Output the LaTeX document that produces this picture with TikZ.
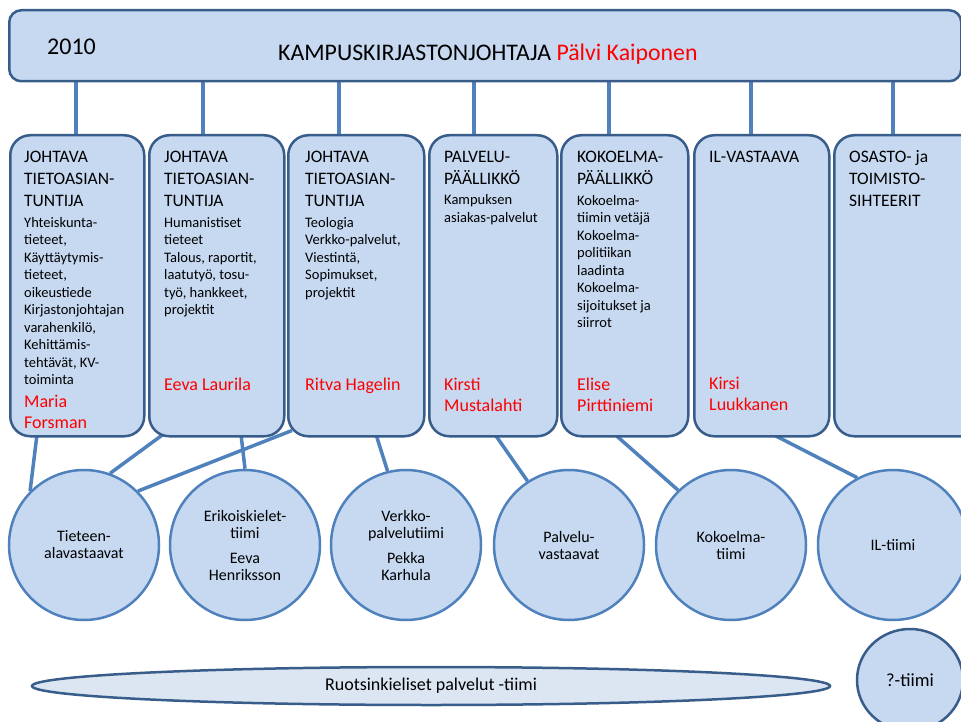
\documentclass[tikz,border=0pt]{standalone}
\usepackage{fontspec}
\setmainfont{Carlito}
\usetikzlibrary{shapes.geometric,backgrounds}
\definecolor{boxfill}{HTML}{C6D9F1}
\definecolor{boxline}{HTML}{385D8A}
\definecolor{connc}{HTML}{4F81BD}
\definecolor{lightfill}{HTML}{DCE6F2}
\definecolor{redname}{HTML}{FF0000}
\tikzset{
  colbox/.style={draw=boxline, fill=boxfill, line width=2.5pt, rounded corners=20pt, anchor=north west, minimum height=301pt, inner sep=0pt},
  topbox/.style={draw=boxline, fill=boxfill, line width=2.5pt, rounded corners=12pt, anchor=north west, minimum width=952pt, minimum height=71pt, inner sep=0pt},
  team/.style={circle, draw=connc, fill=boxfill, line width=2.5pt, minimum size=150pt, inner sep=0pt, align=center, font=\fontsize{16}{17}\selectfont},
  link/.style={draw=connc, line width=3.5pt},
  head/.style={anchor=base west, inner sep=0pt, align=left, font=\fontsize{17.5}{22}\selectfont},
  small/.style={anchor=base west, inner sep=0pt, align=left, font=\fontsize{14.5}{17.5}\selectfont},
  who/.style={anchor=base west, inner sep=0pt, align=left, text=redname, font=\fontsize{18}{21}\selectfont},
}
\begin{document}
\begin{tikzpicture}[x=1pt,y=-1pt]
\useasboundingbox (0,0) rectangle (961,722);
\clip (0,0) rectangle (961,722);
% top box
\node[topbox] (top) at (8,9) {};
\node[anchor=base west, inner sep=0pt, font=\fontsize{24}{28}\selectfont] (year) at (47,55) {2010};
\node[anchor=base west, inner sep=0pt, font=\fontsize{23.8}{28}\selectfont] (title) at (278,61) {KAMPUSKIRJASTONJOHTAJA \textcolor{redname}{Pälvi Kaiponen}};
% column boxes
\node[colbox, minimum width=134pt] (b1) at (9,134) {};
\node[colbox, minimum width=135pt] (b2) at (148,134) {};
\node[colbox, minimum width=136pt] (b3) at (287,134) {};
\node[colbox, minimum width=128pt] (b4) at (428,134) {};
\node[colbox, minimum width=127pt] (b5) at (560,134) {};
\node[colbox, minimum width=135pt] (b6) at (693,134) {};
\node[colbox, minimum width=150pt] (b7) at (833,134) {};
% (anchor = baseline of the last line)
% box 1
\node[head] (h1) at (24,207) {JOHTAVA\\TIETOASIAN-\\TUNTIJA};
\node[small] (s1) at (24,384.5) {Yhteiskunta-\\tieteet,\\Käyttäytymis-\\tieteet,\\oikeustiede\\Kirjastonjohtajan\\varahenkilö,\\Kehittämis-\\tehtävät, KV-\\toiminta};
\node[who] (n1) at (24,428) {Maria\\Forsman};
% box 2
\node[head] (h2) at (164,207) {JOHTAVA\\TIETOASIAN-\\TUNTIJA};
\node[small] (s2) at (164,314.5) {Humanistiset\\tieteet\\Talous, raportit,\\laatutyö, tosu-\\työ, hankkeet,\\projektit};
\node[who] (n2) at (164,390) {Eeva Laurila};
% box 3
\node[head] (h3) at (305,207) {JOHTAVA\\TIETOASIAN-\\TUNTIJA};
\node[small] (s3) at (305,297) {Teologia\\Verkko-palvelut,\\Viestintä,\\Sopimukset,\\projektit};
\node[who] (n3) at (305,390) {Ritva Hagelin};
% box 4
\node[head] (h4) at (444,185) {PALVELU-\\PÄÄLLIKKÖ};
\node[small] (s4) at (444,222.5) {Kampuksen\\asiakas-palvelut};
\node[who] (n4) at (444,411) {Kirsti\\Mustalahti};
% box 5
\node[head] (h5) at (577,185) {KOKOELMA-\\PÄÄLLIKKÖ};
\node[small] (s5) at (577,327.5) {Kokoelma-\\tiimin vetäjä\\Kokoelma-\\politiikan\\laadinta\\Kokoelma-\\sijoitukset ja\\siirrot};
\node[who] (n5) at (577,411) {Elise\\Pirttiniemi};
% box 6
\node[head] (h6) at (709,163) {IL-VASTAAVA};
\node[who] (n6) at (709,410) {Kirsi\\Luukkanen};
% box 7
\node[head] (h7) at (849,207) {OSASTO- ja\\TOIMISTO-\\SIHTEERIT};
% teams
\node[team] (t1) at (84,545) {Tieteen-\\alavastaavat};
\node[team] (t2) at (245,545) {Erikoiskielet-\\tiimi\\[8pt]Eeva\\Henriksson};
\node[team] (t3) at (406,545) {Verkko-\\palvelutiimi\\[8pt]Pekka\\Karhula};
\node[team] (t4) at (569,545) {Palvelu-\\vastaavat};
\node[team] (t5) at (731,545) {Kokoelma-\\tiimi};
\node[team] (t6) at (893,545) {IL-tiimi};
\node[ellipse, draw=boxline, fill=lightfill, line width=2.5pt, minimum width=798pt, minimum height=38pt, inner sep=0pt, font=\fontsize{18}{20}\selectfont] (swe) at (431,686) {Ruotsinkieliset palvelut -tiimi};
\node[ellipse, draw=boxline, fill=boxfill, line width=2.5pt, minimum width=106pt, minimum height=102pt, inner sep=0pt, font=\fontsize{18.5}{20}\selectfont] (qt) at (910,680) {?-tiimi};
% connectors
\begin{pgfonlayer}{background}
\draw[link] ([xshift=67pt]b1.north west) -- ([xshift=68pt]top.south west);
\draw[link] ([xshift=55pt]b2.north west) -- ([xshift=195pt]top.south west);
\draw[link] ([xshift=52pt]b3.north west) -- ([xshift=331pt]top.south west);
\draw[link] ([xshift=46pt]b4.north west) -- ([xshift=466pt]top.south west);
\draw[link] ([xshift=49pt]b5.north west) -- ([xshift=601pt]top.south west);
\draw[link] ([xshift=58pt]b6.north west) -- ([xshift=743pt]top.south west);
\draw[link] ([xshift=60pt]b7.north west) -- ([xshift=885pt]top.south west);
\draw[link] ([xshift=28pt,yshift=3pt]b1.south west) -- (t1.135);
\draw[link] ([xshift=15pt,yshift=3pt]b2.south west) -- (t1.70);
\draw[link] ([xshift=5pt,yshift=7pt]b3.south west) -- (t1.45);
\draw[link] ([xshift=93pt,yshift=3pt]b2.south west) -- (t2.90);
\draw[link] ([xshift=89pt,yshift=3pt]b3.south west) -- (t3.104);
\draw[link] ([xshift=67pt,yshift=3pt]b4.south west) -- (t4.123);
\draw[link] ([xshift=55pt,yshift=3pt]b5.south west) -- (t5.134);
\draw[link] ([xshift=80pt,yshift=3pt]b6.south west) -- (t6.118);
\end{pgfonlayer}
\end{tikzpicture}
\end{document}
